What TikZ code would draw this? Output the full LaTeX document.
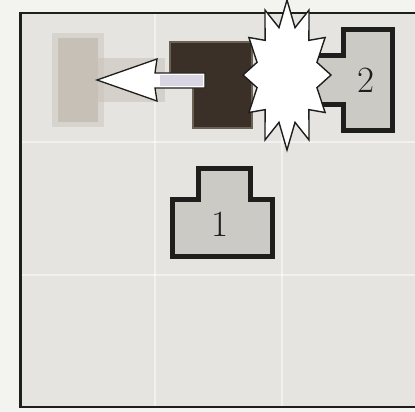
\documentclass[tikz,border=0pt]{standalone}
\usepackage{tikz}
\definecolor{paper}{HTML}{F3F3EF}
\definecolor{field}{HTML}{E5E4E0}
\definecolor{frame}{HTML}{1E1E1C}
\definecolor{ghost}{HTML}{C6C0B6}
\definecolor{darkpiece}{HTML}{3A3027}
\definecolor{darkedge}{HTML}{6B6254}
\definecolor{piecefill}{HTML}{CCCAC4}
\definecolor{shaft}{HTML}{D9D5E2}
\tikzset{
  piece/.style={draw=frame, line width=5pt, fill=piecefill, line join=miter},
  gridline/.style={draw=white, line width=1.6pt, opacity=0.5},
  burst/.style={draw=frame, line width=1.4pt, fill=white, line join=miter},
  arrowshape/.style={draw=frame, line width=1.3pt, fill=white, line join=miter},
  lbl/.style={font=\fontsize{37}{37}\selectfont, text=frame, inner sep=0pt}
}
\begin{document}
\begin{tikzpicture}[x=1pt,y=-1pt]
\useasboundingbox (0,0) rectangle (415,412);
\fill[paper] (0,0) rectangle (415,412);
% field
\fill[field] (20,13) rectangle (415,407);
\draw[gridline] (155,14) -- (155,406);
\draw[gridline] (282,14) -- (282,406);
\draw[gridline] (22,142) -- (415,142);
\draw[gridline] (22,275) -- (415,275);
% frame (open on the right)
\draw[frame, line width=2.2pt] (415,13) -- (20,13) -- (20,407) -- (415,407);
\draw[frame, line width=3.2pt] (20.5,12) -- (20.5,408);
% ghost piece
\fill[ghost, opacity=0.45] (52,33) rectangle (104,127);
\fill[ghost] (58,38) rectangle (98,122);
\fill[ghost, opacity=0.5] (98,58) rectangle (165,102);
% dark piece
\filldraw[fill=darkpiece, draw=darkedge, line width=2pt, line join=miter]
  (170,42) -- (252,42) -- (252,128) -- (193,128) -- (193,80) -- (170,80) -- cycle;
% arrow pointing left
\filldraw[arrowshape] (97,80) -- (157,59) -- (155,73) -- (205,73) -- (205,88) -- (155,88) -- (157,101) -- cycle;
\fill[shaft] (160,75.5) rectangle (203,85.5);
% piece 2
\draw[piece] (343,30) -- (392,30) -- (392,130) -- (343,130) -- (343,104) -- (314,104) -- (314,56) -- (343,56) -- cycle;
\node[lbl] (two) at (366,80) {2};
% starburst (12 spikes)
\filldraw[burst] plot[samples=24, domain=0:23, variable=\k]
  ({287 + (mod(\k,2)==0 ? 44 : 31)*cos(\k*15)}, {75 + (mod(\k,2)==0 ? 75 : 49)*sin(\k*15)}) -- cycle;
% piece 1
\draw[piece] (198,168) -- (250,168) -- (250,199) -- (272,199) -- (272,256) -- (172,256) -- (172,199) -- (198,199) -- cycle;
\node[lbl] (one) at (220,224) {1};
\end{tikzpicture}
\end{document}
